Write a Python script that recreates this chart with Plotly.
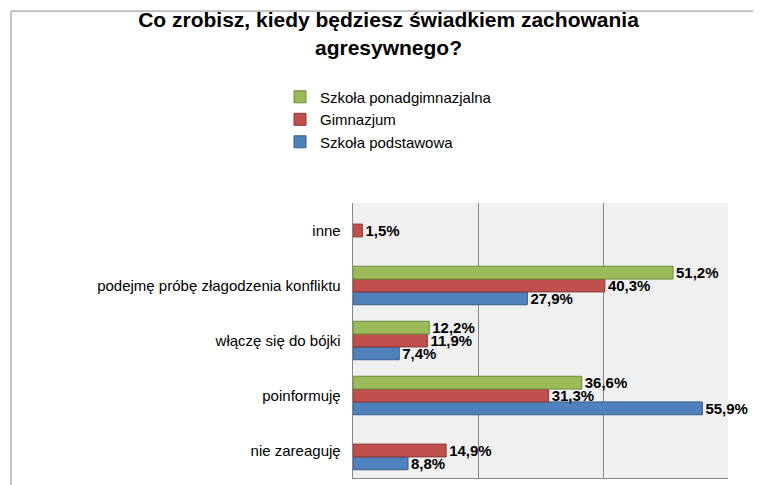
import plotly.graph_objects as go

categories = ["nie zareaguję", "poinformuję", "włączę się do bójki",
              "podejmę próbę złagodzenia konfliktu", "inne"]
podstawowa = [8.8, 55.9, 7.4, 27.9, None]
gimnazjum = [14.9, 31.3, 11.9, 40.3, 1.5]
ponadgim = [None, 36.6, 12.2, 51.2, None]

series = [("Szkoła podstawowa", podstawowa, "#4f81bd", "#385d8a"),
          ("Gimnazjum", gimnazjum, "#c0504d", "#8c3836"),
          ("Szkoła ponadgimnazjalna", ponadgim, "#9bbb59", "#71893f")]

fig = go.Figure()
for name, vals, col, edge in series:
    fig.add_trace(go.Bar(
        y=categories, x=vals, name=name, orientation="h",
        marker=dict(color=col, line=dict(color=edge, width=1)),
        text=[("" if v is None else f"{v:.1f}%".replace(".", ",")) for v in vals],
        textposition="outside", cliponaxis=False, constraintext="none",
        textfont=dict(family="Liberation Sans, Arial", size=15, color="black", weight="bold"),
    ))

fig.update_layout(
    width=761, height=485, barmode="group", bargap=0.3, bargroupgap=0,
    uniformtext=dict(mode="show", minsize=15),
    title=dict(text="<b>Co zrobisz, kiedy będziesz świadkiem zachowania<br>agresywnego?</b>",
               x=0.5, xref="container", y=0.96, xanchor="center", yanchor="top",
               font=dict(family="Liberation Sans, Arial", size=21, color="black")),
    legend=dict(orientation="h", xref="container", x=0.5, xanchor="center",
                yref="container", y=0.77, yanchor="middle",
                traceorder="reversed", font=dict(family="Liberation Sans, Arial", size=15)),
    margin=dict(l=345, r=41, t=195, b=15),
    paper_bgcolor="white", plot_bgcolor="#f0f0f0",
    font=dict(family="Liberation Sans, Arial", size=15, color="black"),
    shapes=[dict(type="rect", xref="paper", yref="paper", x0=-0.912, x1=1.101, y0=-0.044, y1=1.698,
                 line=dict(color="#888", width=1))],
)
fig.update_xaxes(range=[0, 60], dtick=20, showticklabels=False, gridcolor="#888",
                 showline=True, linecolor="#888", zeroline=False)
fig.update_yaxes(showline=True, linecolor="#888", ticks="", ticksuffix="  ")

fig.write_html("out.html")
